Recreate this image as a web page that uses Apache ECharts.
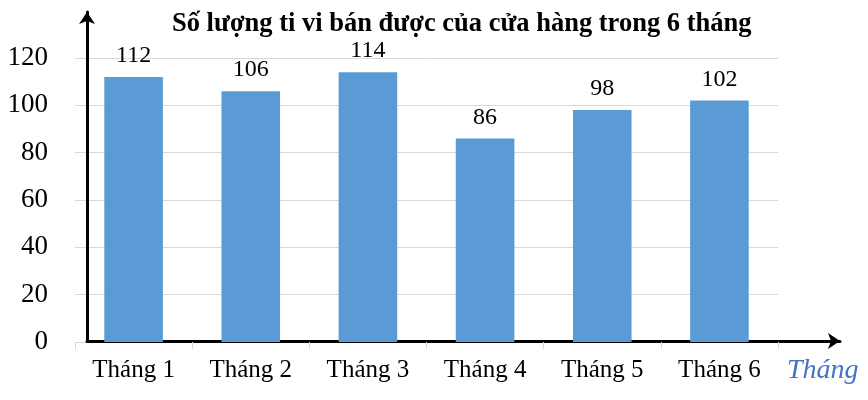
<!DOCTYPE html>
<html>
<head>
<meta charset="utf-8">
<script src="https://cdn.jsdelivr.net/npm/echarts@6/dist/echarts.min.js"></script>
<style>html,body{margin:0;padding:0;background:#fff}#c{width:868px;height:400px}</style>
</head>
<body>
<div id="c"></div>
<script>
var titleText = 'Số lượng ti vi bán được của cửa hàng trong 6 tháng';
var categories = ['Tháng 1', 'Tháng 2', 'Tháng 3', 'Tháng 4', 'Tháng 5', 'Tháng 6'];
var values = [112, 106, 114, 86, 98, 102];
var xAxisName = 'Tháng';
var yMin = 0, yMax = 120, yStep = 20;

var FONT = "'Liberation Serif', 'Times New Roman', serif";
var chart = echarts.init(document.getElementById('c'));
chart.setOption({
  animation: false,
  backgroundColor: '#fff',
  title: {
    text: titleText,
    left: 172,
    top: 11,
    padding: 0,
    textStyle: { fontFamily: FONT, fontSize: 26.5, fontWeight: 'bold', color: '#000' }
  },
  grid: [
    { left: 75, right: 90, top: 58, bottom: 58 },
    { left: 87, right: 28, top: 12, bottom: 59 }
  ],
  xAxis: [
    {
      type: 'category', gridIndex: 0, data: categories,
      axisLine: { lineStyle: { color: '#d9d9d9', width: 1 } },
      axisTick: { show: true, length: 7, lineStyle: { color: '#d9d9d9' } },
      axisLabel: { fontFamily: FONT, fontSize: 25, color: '#000', margin: 16 },
      name: xAxisName,
      nameLocation: 'end',
      nameGap: 9,
      nameTextStyle: { fontFamily: FONT, fontSize: 28, fontStyle: 'italic', color: '#4472C4', align: 'left', verticalAlign: 'top', padding: [15, 0, 0, 0] }
    },
    {
      type: 'value', gridIndex: 1, min: 0, max: 1,
      axisLine: { show: true, onZero: false, symbol: ['none', 'arrow'], symbolSize: [12, 12], lineStyle: { color: '#000', width: 3 } },
      axisTick: { show: false }, axisLabel: { show: false }, splitLine: { show: false }
    }
  ],
  yAxis: [
    {
      type: 'value', gridIndex: 0, min: yMin, max: yMax, interval: yStep,
      axisLine: { show: false }, axisTick: { show: false },
      axisLabel: { fontFamily: FONT, fontSize: 27, color: '#000', margin: 27 },
      splitLine: { lineStyle: { color: '#d9d9d9', width: 1 } }
    },
    {
      type: 'value', gridIndex: 1, min: 0, max: 1,
      axisLine: { show: true, onZero: false, symbol: ['none', 'arrow'], symbolSize: [12, 12], lineStyle: { color: '#000', width: 3 } },
      axisTick: { show: false }, axisLabel: { show: false }, splitLine: { show: false }
    }
  ],
  series: [{
    type: 'bar', xAxisIndex: 0, yAxisIndex: 0,
    data: values,
    barWidth: '50%',
    itemStyle: { color: '#5B9BD5' },
    label: { show: true, position: 'top', distance: 9, fontFamily: FONT, fontSize: 24, color: '#000' }
  }]
});
</script>
</body>
</html>
